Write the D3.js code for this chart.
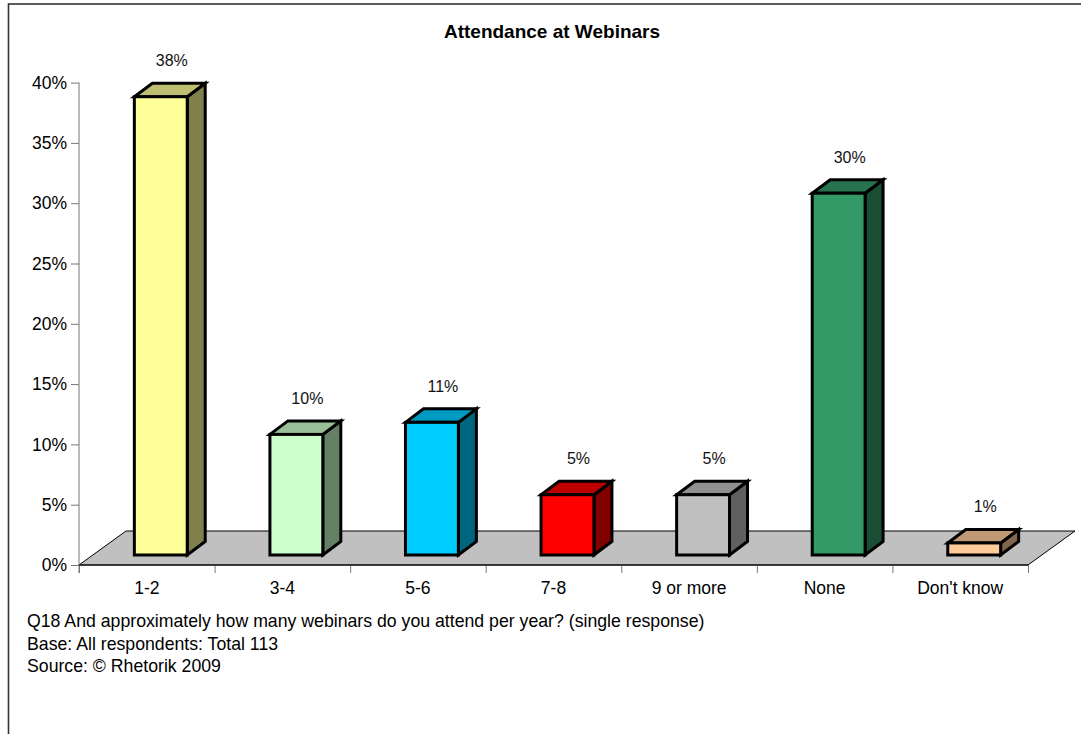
<!DOCTYPE html>
<html>
<head>
<meta charset="utf-8">
<script src="https://cdn.jsdelivr.net/npm/d3@7"></script>
<style>
  html, body { margin: 0; padding: 0; background: #fff; }
  svg { display: block; font-family: "Liberation Sans", Arial, sans-serif; }
</style>
</head>
<body>
<svg id="chart" width="1081" height="734"></svg>
<script>
// Survey answers: webinars attended per year
const categories = ["1-2", "3-4", "5-6", "7-8", "9 or more", "None", "Don't know"];
const shares = [38, 10, 11, 5, 5, 30, 1];
const yTicks = [0, 5, 10, 15, 20, 25, 30, 35, 40];
const footnotes = [
  "Q18 And approximately how many webinars do you attend per year? (single response)",
  "Base: All respondents: Total 113",
  "Source: \u00A9 Rhetorik 2009"
];

// Face colours for each bar: front, top, side
const frontColors = ["#FFFF99", "#CCFFCC", "#00CCFF", "#FF0000", "#C0C0C0", "#339966", "#FFCC99"];
const topColors   = ["#BFBF73", "#99BF99", "#0099BF", "#BF0000", "#909090", "#26734D", "#BF9973"];
const sideColors  = ["#80804D", "#668066", "#006680", "#800000", "#606060", "#1A4D33", "#80664D"];

const svg = d3.select("#chart");

// frame
svg.append("rect")
  .attr("x", 8.5).attr("y", 4).attr("width", 1100).attr("height", 760)
  .attr("fill", "#fff").attr("stroke", "#333").attr("stroke-width", 1.6);

const plotLeft = 79, plotRight = 1028, plotBase = 565, plotTop = 82.6;
const floorDepth = { dx: 47, dy: -34 };     // full depth of the floor
const barOffset  = { dx: 14, dy: -10 };     // front face of bars inside the floor
const barDepth   = { dx: 18, dy: -13.5 };   // depth of each bar

const y = d3.scaleLinear().domain([0, 40]).range([plotBase, plotTop]);
const x = d3.scaleBand().domain(categories).range([plotLeft, plotRight])
  .paddingInner(0.61).paddingOuter(0.305);
const edges = d3.scaleLinear().domain([0, categories.length]).range([plotLeft, plotRight]);

// title
svg.append("text")
  .attr("x", 552).attr("y", 38).attr("text-anchor", "middle")
  .attr("font-size", 19).attr("font-weight", "bold").attr("fill", "#000")
  .text("Attendance at Webinars");

// floor
const floorPts = [
  [plotLeft, plotBase], [plotRight, plotBase],
  [plotRight + floorDepth.dx, plotBase + floorDepth.dy],
  [plotLeft + floorDepth.dx, plotBase + floorDepth.dy]
];
svg.append("polygon")
  .attr("points", floorPts.map(p => p.join(",")).join(" "))
  .attr("fill", "#C0C0C0").attr("stroke", "#000").attr("stroke-width", 1);

// y axis
const yAxis = d3.axisLeft(y).tickValues(yTicks).tickFormat(d => d + "%")
  .tickSize(8).tickPadding(4).tickSizeOuter(0);
const yg = svg.append("g").attr("transform", `translate(${plotLeft},0)`).call(yAxis);
yg.select(".domain").remove();
yg.selectAll(".tick line").attr("stroke", "#777");
yg.selectAll(".tick text").attr("font-size", 17.5).attr("fill", "#000")
  .attr("font-family", "\"Liberation Sans\", Arial, sans-serif");
svg.append("line")
  .attr("x1", plotLeft).attr("x2", plotLeft).attr("y1", y(40)).attr("y2", plotBase + 8)
  .attr("stroke", "#777").attr("stroke-width", 1);

// x axis: boundary ticks and category labels
const xTickAxis = d3.axisBottom(edges).tickValues(d3.range(categories.length + 1))
  .tickFormat("").tickSize(8).tickSizeOuter(0);
const xt = svg.append("g").attr("transform", `translate(0,${plotBase})`).call(xTickAxis);
xt.select(".domain").remove();
xt.selectAll(".tick line").attr("stroke", "#777");

const xLabelAxis = d3.axisBottom(x).tickSize(0).tickPadding(17);
const xl = svg.append("g").attr("transform", `translate(0,${plotBase})`).call(xLabelAxis);
xl.select(".domain").remove();
xl.selectAll(".tick text").attr("font-size", 17.5).attr("fill", "#000")
  .attr("font-family", "\"Liberation Sans\", Arial, sans-serif");

svg.append("line")
  .attr("x1", plotLeft).attr("x2", plotRight).attr("y1", plotBase).attr("y2", plotBase)
  .attr("stroke", "#000").attr("stroke-width", 1);

// 3D bars
const bw = x.bandwidth();
const bars = svg.append("g");
categories.forEach((c, i) => {
  const v = shares[i];
  const x0 = x(c) + barOffset.dx, x1 = x0 + bw;
  const yb = plotBase + barOffset.dy, yt = y(v) + barOffset.dy;
  const dx = barDepth.dx, dy = barDepth.dy;
  const g = bars.append("g")
    .attr("stroke", "#000").attr("stroke-width", 3).attr("stroke-linejoin", "miter");
  // side
  g.append("polygon")
    .attr("points", [[x1, yt], [x1 + dx, yt + dy], [x1 + dx, yb + dy], [x1, yb]].map(p => p.join(",")).join(" "))
    .attr("fill", sideColors[i]);
  // top
  g.append("polygon")
    .attr("points", [[x0, yt], [x0 + dx, yt + dy], [x1 + dx, yt + dy], [x1, yt]].map(p => p.join(",")).join(" "))
    .attr("fill", topColors[i]);
  // front
  g.append("rect")
    .attr("x", x0).attr("y", yt).attr("width", bw).attr("height", yb - yt)
    .attr("fill", frontColors[i]);
  // value label
  svg.append("text")
    .attr("x", x0 + bw / 2 + 11).attr("y", yt + dy - 17)
    .attr("text-anchor", "middle").attr("font-size", 16).attr("fill", "#111")
    .text(v + "%");
});

// footnotes
svg.append("g").selectAll("text").data(footnotes).join("text")
  .attr("x", 27).attr("y", (d, i) => 627 + i * 22.5)
  .attr("font-size", 17.7).attr("fill", "#000")
  .text(d => d);
</script>
</body>
</html>
